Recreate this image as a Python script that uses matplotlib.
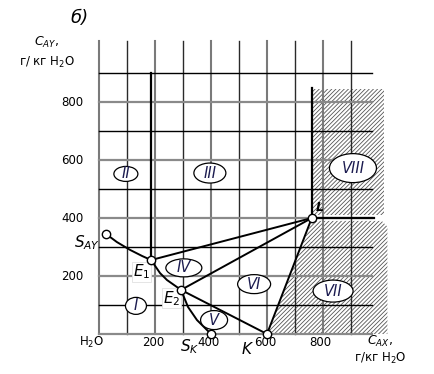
import matplotlib
matplotlib.use('Agg')
import matplotlib.pyplot as plt
from matplotlib.patches import Ellipse, Polygon

plt.rcParams['font.family'] = ['DejaVu Sans']
plt.rcParams['hatch.linewidth'] = 0.6

# curve S_AY - E1 - E2 - S_K
curve_x = [25, 64, 111, 154, 186, 218, 243, 293, 318, 350, 400]
curve_y = [345, 317, 290, 269, 255, 210, 186, 152, 93, 48, 0]

# special points
pts = {'SAY': (25, 345), 'E1': (186, 255), 'E2': (293, 152),
       'SK': (400, 0), 'K': (600, 0), 'L': (760, 400)}

# field labels: name, x, y, width(px), height(px)
fields = [('II', 96, 552, 24, 15), ('III', 396, 555, 32, 20),
          ('VIII', 907, 572, 47, 29), ('IV', 303, 228, 36, 18),
          ('I', 132, 97, 21, 17), ('V', 411, 48, 27, 19),
          ('VI', 554, 172, 33, 19), ('VII', 836, 148, 40, 22)]

xticks = [200, 400, 600, 800]
yticks = [200, 400, 600, 800]

sx, sy = 0.28, 0.29   # px per unit
W, H = 434, 374
x0, y0 = 99, 334
fig = plt.figure(figsize=(W / 100, H / 100), dpi=100)
wpx, hpx = 310, 310
ax = fig.add_axes([x0 / W, (H - y0) / H, wpx / W, hpx / H])
ax.set_xlim(0, wpx / sx)
ax.set_ylim(0, hpx / sy)
ax.axis('off')

# hatched regions
up = Polygon([(765, 410), (765, 845), (1017, 845), (1017, 410)],
             closed=True, facecolor='white', edgecolor='#555555',
             hatch='////////', lw=0, zorder=1)
lo = Polygon([(760, 390), (600, 0), (1030, 0), (1030, 370), (1010, 390)],
             closed=True, facecolor='white', edgecolor='#555555',
             hatch='////////', lw=0, zorder=1)
ax.add_patch(up)
ax.add_patch(lo)

# grid
for v in range(0, 1000, 100):
    if v % 200 == 0:
        ax.plot([v, v], [0, 1010], color='#7a7a7a', lw=1.5, zorder=2, clip_on=False)
    else:
        ax.plot([v, v], [0, 1010], color='#2a2a2a', lw=1.0, zorder=2, clip_on=False)
for h in range(0, 1000, 100):
    if h % 200 == 0:
        ax.plot([0, 975], [h, h], color='#8a8a8a', lw=1.6, zorder=2, clip_on=False)
    else:
        ax.plot([0, 975], [h, h], color='black', lw=1.0, zorder=2, clip_on=False)

# phase lines
ax.plot(curve_x, curve_y, color='black', lw=1.4, zorder=4)
E1, E2, K, L = pts['E1'], pts['E2'], pts['K'], pts['L']
ax.plot([E1[0], E1[0]], [E1[1], 900], color='black', lw=1.6, zorder=4)
for a, b in [(E1, L), (E2, L), (E2, K), (L, K)]:
    ax.plot([a[0], b[0]], [a[1], b[1]], color='black', lw=1.4, zorder=4)
ax.plot([L[0], 982], [L[1], L[1]], color='black', lw=1.6, zorder=4)
ax.plot([L[0], L[0]], [L[1], 848], color='black', lw=1.6, zorder=4)

for k, (px, py) in pts.items():
    ax.plot(px, py, 'o', ms=6, mfc='white', mec='black', mew=1.0, zorder=9, clip_on=False)

# fields
for name, fx, fy, ew, eh in fields:
    ax.add_patch(Ellipse((fx, fy), ew / sx, eh / sy, facecolor='white',
                         edgecolor='black', lw=0.9, zorder=5))
    ax.text(fx, fy, name, ha='center', va='center', style='italic',
            fontsize=10.5, color='#1c1c50', zorder=7)

# point labels
ax.text(5, 314, r'$S_{AY}$', ha='right', va='center', fontsize=11, clip_on=False)
ax.text(152, 215, r'$E_1$', ha='center', va='center', fontsize=11, zorder=7,
        bbox=dict(boxstyle='square,pad=0.05', fc='white', ec='#e0e0e0', lw=0.6))
ax.text(259, 123, r'$E_2$', ha='center', va='center', fontsize=11, zorder=7,
        bbox=dict(boxstyle='square,pad=0.05', fc='white', ec='#e0e0e0', lw=0.6))
ax.text(325, -42, r'$S_K$', ha='center', va='center', fontsize=11, clip_on=False)
ax.text(530, -52, r'$K$', ha='center', va='center', fontsize=11, clip_on=False)
ax.text(789, 436, 'L', ha='center', va='center', fontsize=9, style='italic',
        weight='bold', zorder=7)

# ticks
for t in yticks:
    ax.text(-55, t, str(t), ha='right', va='center', fontsize=8.5, clip_on=False)
for t in xticks:
    ax.text(t - 8, -30, str(t), ha='center', va='center', fontsize=8.5, clip_on=False)
ax.text(-25, -30, 'H$_2$O', ha='center', va='center', fontsize=8.5, clip_on=False)

# axis titles
ax.text(-186, 1004, '$C_{AY}$,', ha='center', va='center', fontsize=9, clip_on=False)
ax.text(-186, 938, 'г/ кг H$_2$O', ha='center', va='center', fontsize=8.5, clip_on=False)
ax.text(1004, -27, '$C_{AX}$,', ha='center', va='center', fontsize=9, clip_on=False)
ax.text(1004, -86, 'г/кг H$_2$O', ha='center', va='center', fontsize=8.5, clip_on=False)
ax.text(-68, 1090, 'б)', ha='center', va='center', fontsize=13, style='italic', clip_on=False)

fig.savefig('out.png', dpi=100)
